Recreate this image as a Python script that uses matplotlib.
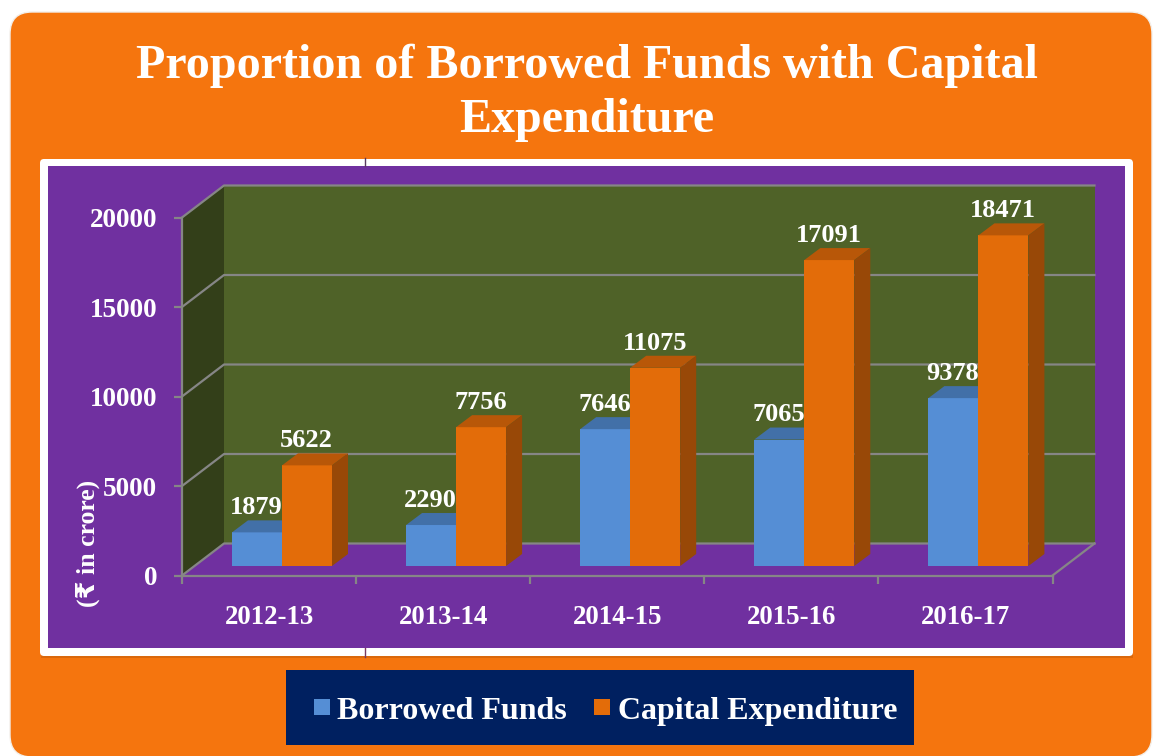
# recreate of the borrowed funds / capital expenditure slide chart
import numpy as np
import matplotlib
matplotlib.use('Agg')
import matplotlib.pyplot as plt
from matplotlib.patches import FancyBboxPatch, Rectangle, Polygon

years = ['2012-13', '2013-14', '2014-15', '2015-16', '2016-17']
borrowed = [1879, 2290, 7646, 7065, 9378]
capex = [5622, 7756, 11075, 17091, 18471]
yticks = [0, 5000, 10000, 15000, 20000]

W, H = 1155, 756
FONT = ['Liberation Serif', 'DejaVu Sans']
plt.rcParams['font.family'] = FONT
plt.rcParams['font.weight'] = 'bold'

ORANGE_BG = '#F5750E'
PURPLE = '#7030A0'
WALL = '#4F6228'
SIDE = '#333F19'
GRID = '#868686'
NAVY = '#002060'
BLUE = ('#558ED5', '#4270A8', '#3B6496')
ORANGE = ('#E36C09', '#B85708', '#984807')

fig = plt.figure(figsize=(W / 100, H / 100), dpi=100, facecolor='white')

# slide background, in pixels
bg = fig.add_axes([0, 0, 1, 1])
bg.set_xlim(0, W)
bg.set_ylim(H, 0)
bg.axis('off')
bg.add_patch(FancyBboxPatch((10, 12), 1142, 745, boxstyle='round,pad=0,rounding_size=22',
                            fc=ORANGE_BG, ec='#F3EFEA', lw=1))
bg.add_patch(Rectangle((41, 160), 1092, 498, fc='#C9600C', ec='none', alpha=0.6))
bg.add_patch(FancyBboxPatch((40, 159), 1093, 497, boxstyle='round,pad=0,rounding_size=4',
                            fc='white', ec='none'))
bg.add_patch(Rectangle((48, 166), 1077, 481.5, fc=PURPLE, ec='none'))
bg.plot([365, 365], [158, 166], color='#5A3A60', lw=1)
bg.plot([365, 365], [648, 657], color='#7A3A60', lw=1)
bg.text(587, 92.5, 'Proportion of Borrowed Funds with Capital\nExpenditure', color='white',
        fontsize=34.6, ha='center', va='center', linespacing=1.29)

# legend box
bg.add_patch(Rectangle((286, 670), 628, 75, fc=NAVY, ec='none'))
bg.add_patch(Rectangle((314, 699), 16, 16, fc=BLUE[0], ec='none'))
bg.add_patch(Rectangle((594, 699), 16, 16, fc=ORANGE[0], ec='none'))
bg.text(337, 719, 'Borrowed Funds', color='white', fontsize=23, va='baseline')
bg.text(618, 719, 'Capital Expenditure', color='white', fontsize=23, va='baseline')

# chart axes: the front plane of the 3d box
left, right, top, bottom = 182, 1052.5, 217.5, 575.5
ax = fig.add_axes([left / W, 1 - bottom / H, (right - left) / W, (bottom - top) / H])
ax.patch.set_alpha(0)
ax.set_xlim(0, 5)
ax.set_ylim(0, 20000)

px_x = 5 / (right - left)
px_y = 20000 / (bottom - top)
box_dx, box_dy = 42 * px_x, 32 * px_y
bar_dx, bar_dy = 16 * px_x, 12 * px_y
base = 9.5 * px_y
offset = 50 * px_x
width = 50 * px_x


def poly(pts, color, z, ec='none'):
    ax.add_patch(Polygon(pts, closed=True, fc=color, ec=ec, lw=0, zorder=z, clip_on=False))


# walls and floor
poly([(box_dx, box_dy), (5 + box_dx, box_dy), (5 + box_dx, 20000 + box_dy), (box_dx, 20000 + box_dy)], WALL, 1)
poly([(0, 0), (box_dx, box_dy), (box_dx, 20000 + box_dy), (0, 20000)], SIDE, 1)
poly([(0, 0), (5, 0), (5 + box_dx, box_dy), (box_dx, box_dy)], PURPLE, 1.5)
for v in yticks:
    ax.plot([0, box_dx, 5 + box_dx], [v, v + box_dy, v + box_dy], color=GRID, lw=1.6,
            zorder=2, clip_on=False)
ax.plot([5, 5 + box_dx], [0, box_dy], color=GRID, lw=1.6, zorder=2, clip_on=False)


def draw_bars(xs, vals, cols, z):
    ax.bar(xs, vals, width, bottom=base, align='edge', color=cols[0], zorder=z, clip_on=False)
    for x, v in zip(xs, vals):
        t = base + v
        poly([(x, t), (x + width, t), (x + width + bar_dx, t + bar_dy), (x + bar_dx, t + bar_dy)], cols[1], z)
        poly([(x + width, base), (x + width + bar_dx, base + bar_dy),
              (x + width + bar_dx, t + bar_dy), (x + width, t)], cols[2], z)
        ax.annotate(str(v), (x + width / 2, t), xytext=(-0.4, 17.8), textcoords='offset points',
                    ha='center', va='center', color='white', fontsize=19, zorder=8,
                    annotation_clip=False)


ind = np.arange(len(years))
draw_bars(ind + offset, borrowed, BLUE, 3)
draw_bars(ind + offset + width, capex, ORANGE, 4)

# axis furniture
for s in ['top', 'right']:
    ax.spines[s].set_visible(False)
for s in ['left', 'bottom']:
    ax.spines[s].set_color(GRID)
    ax.spines[s].set_linewidth(1.6)
    ax.spines[s].set_zorder(5)
ax.set_yticks(yticks)
ax.set_yticklabels([str(v) for v in yticks], color='white', fontsize=19.5)
ax.set_xticks(np.arange(6))
ax.set_xticklabels([])
ax.set_xticks(ind + 0.5, labels=years, minor=True, color='white', fontsize=19.4)
ax.tick_params(axis='y', length=6, width=1.6, color=GRID, pad=11.7)
ax.tick_params(axis='x', which='major', length=6, width=1.6, color=GRID)
ax.tick_params(axis='x', which='minor', length=0, pad=21)
bg.text(88, 543, '(₹ in crore)', color='white', fontsize=18.5, rotation=90, ha='center', va='center')

fig.savefig('out.png', dpi=100)
